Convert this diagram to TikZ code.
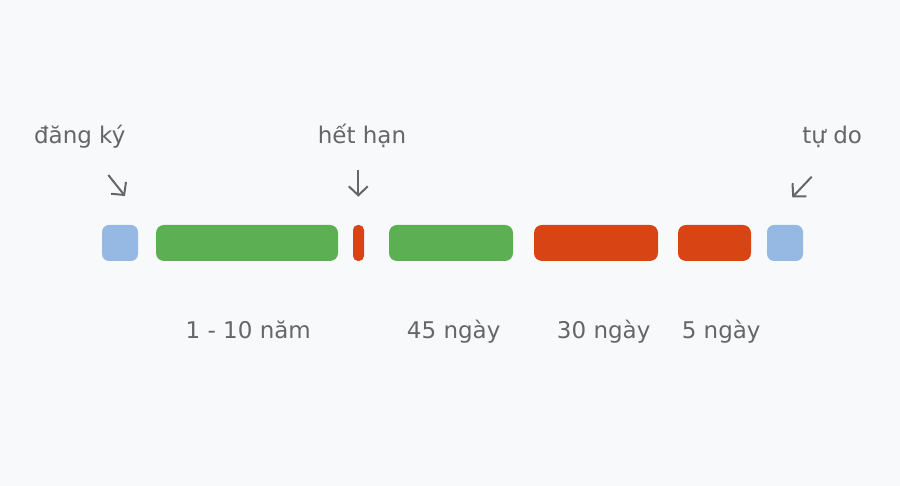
\documentclass[tikz,border=0pt]{standalone}
\usepackage{fontspec}
\setmainfont{DejaVu Sans}
\usetikzlibrary{positioning,arrows.meta}
\definecolor{paper}{RGB}{248,249,250}
\definecolor{regblue}{RGB}{150,185,228}
\definecolor{okgreen}{RGB}{92,176,83}
\definecolor{expred}{RGB}{216,68,20}
\definecolor{inkgray}{RGB}{102,102,102}
\tikzset{
  bar/.style={inner sep=0pt, outer sep=0pt, minimum height=36pt},
  lbl/.style={inner sep=0pt, anchor=base, text=inkgray, font=\fontsize{23}{27}\selectfont},
  pointer/.style={draw=inkgray, line width=2pt, -{Straight Barb[length=9pt,width=19pt]}}
}

\begin{document}
\begin{tikzpicture}[x=1pt,y=1pt]
  \fill[paper] (0,0) rectangle (900,486);
  \useasboundingbox (0,0) rectangle (900,486);

  \foreach \n/\a/\b/\c/\r in {reg/102/138/regblue/7, live/156/338/okgreen/8, exp/353/364/expred/5, grace/389/513/okgreen/8, hold/534/658/expred/8, pend/678/751/expred/8, free/767/803/regblue/7}
    \node[bar, fill=\c, rounded corners=\r pt, minimum width={\b-\a}] (\n) at ({(\a+\b)/2},243) {};

  \foreach \n/\x/\y/\t in {treg/79.7/342/{đăng ký}, texp/362/342.5/{hết hạn}, tfree/832.2/342.5/{tự do}, dlive/248.3/147/{1 - 10 năm}, dgrace/453.7/147/{45 ngày}, dhold/603.7/147/{30 ngày}, dpend/721.2/147/{5 ngày}}
    \node[lbl] (\n) at (\x,\y) {\t};

  \foreach \n/\xa/\ya/\xb/\yb in {reg/108.3/311/125/290, exp/358.3/316/358.3/289.3, free/811.7/309.3/792.3/288.7}
  {
    \coordinate (\n from) at (\xa,\ya);
    \coordinate (\n to) at (\xb,\yb);
    \draw[pointer] (\n from) -- (\n to);
  }
\end{tikzpicture}
\end{document}
